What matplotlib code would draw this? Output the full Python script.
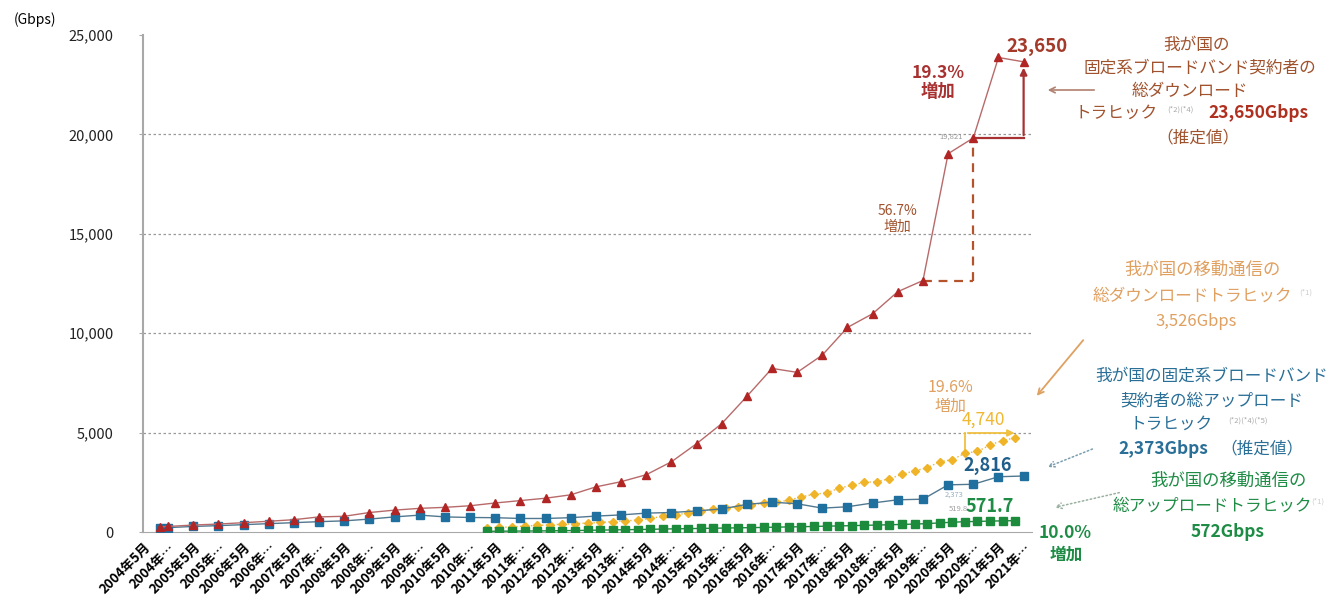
import matplotlib
matplotlib.use("Agg")
import matplotlib.pyplot as plt

plt.rcParams["font.family"] = ["Noto Sans CJK JP", "DejaVu Sans"]

# semi-annual survey points (fixed broadband)
fixed_dates = ["2004-09", "2004-11",
               "2005-05", "2005-11", "2006-05", "2006-11", "2007-05", "2007-11",
               "2008-05", "2008-11", "2009-05", "2009-11", "2010-05", "2010-11",
               "2011-05", "2011-11", "2012-05", "2012-11", "2013-05", "2013-11",
               "2014-05", "2014-11", "2015-05", "2015-11", "2016-05", "2016-11",
               "2017-05", "2017-11", "2018-05", "2018-11", "2019-05", "2019-11",
               "2020-05", "2020-11", "2021-05", "2021-11"]
fixed_down = [250, 280, 350, 400, 470, 540, 620, 760, 790, 980, 1100, 1190,
              1240, 1320, 1460, 1580, 1700, 1870, 2270, 2530, 2880, 3530,
              4440, 5450, 6820, 8230, 8030, 8900, 10290, 10980, 12090, 12650,
              19030, 19821, 23870, 23650]
fixed_up = [200, 220, 280, 320, 370, 420, 470, 520, 560, 650, 760, 850,
            760, 730, 720, 680, 680, 720, 800, 860, 950, 980, 1060, 1160,
            1390, 1500, 1420, 1200, 1270, 1460, 1620, 1650, 2373, 2400,
            2780, 2816]

# quarterly survey points (mobile)
mobile_dates = ["2011-03", "2011-06", "2011-09", "2011-12",
                "2012-03", "2012-06", "2012-09", "2012-12",
                "2013-03", "2013-06", "2013-09", "2013-12",
                "2014-03", "2014-06", "2014-09", "2014-12",
                "2015-03", "2015-06", "2015-09", "2015-12",
                "2016-03", "2016-06", "2016-09", "2016-12",
                "2017-03", "2017-06", "2017-09", "2017-12",
                "2018-03", "2018-06", "2018-09", "2018-12",
                "2019-03", "2019-06", "2019-09", "2019-12",
                "2020-03", "2020-06", "2020-09", "2020-12",
                "2021-03", "2021-06", "2021-09"]
mobile_down = [200, 230, 260, 300, 330, 360, 390, 420, 450, 480, 520, 560,
               600, 680, 800, 870, 950, 1050, 1150, 1200, 1280, 1350, 1450,
               1500, 1600, 1770, 1900, 1970, 2200, 2350, 2500, 2530, 2680,
               2900, 3080, 3230, 3530, 3640, 3963, 4050, 4380, 4600, 4740]
mobile_up = [35, 40, 45, 50, 55, 60, 68, 75, 85, 95, 105, 115, 125, 135,
             150, 160, 170, 180, 190, 200, 210, 220, 230, 245, 255, 265,
             280, 295, 305, 320, 335, 350, 365, 380, 400, 420, 460, 490,
             519.8, 530, 550, 560, 571.7]

tick_labels = []
for yr in range(2004, 2022):
    tick_labels += [f"{yr}年5月", f"{yr}年…"]
yticks = [0, 5000, 10000, 15000, 20000, 25000]


def to_month(s):
    y, m = s.split("-")
    return (int(y) - 2004) * 12 + int(m) - 5


fx = [to_month(d) for d in fixed_dates]
mx = [to_month(d) for d in mobile_dates]

W, H = 1333, 599
fig = plt.figure(figsize=(W / 100, H / 100), dpi=100)
ax = fig.add_axes([143 / W, 1 - 532 / H, (1032 - 143) / W, (532 - 35) / H])


def fp(x, y):
    # pixel position measured from the top-left corner
    return (x, H - y)


def ftext(x, y, s, **kw):
    kw.setdefault("ha", "center")
    kw.setdefault("va", "center")
    fig.text(x / W, 1 - y / H, s, **kw)


# series
ax.plot(mx, mobile_down, color="#eab53c", lw=1, ls=":", marker="D", ms=4.5,
        mfc="#f0b429", mec="#f0b429", zorder=3)
ax.plot(fx, fixed_up, color="#52788f", lw=1, marker="s", ms=6,
        mfc="#1f6f9f", mec="#1f6f9f", zorder=4)
ax.plot(fx, fixed_down, color="#b86a6a", lw=1, marker="^", ms=6,
        mfc="#b22525", mec="#b22525", zorder=5)
ax.plot(mx, mobile_up, color="#1e8a3e", lw=1, marker="s", ms=6,
        mfc="#1c8c3c", mec="#1c8c3c", zorder=6)

ax.set_xlim(0, 212)
ax.set_ylim(0, 25000)
ax.set_xticks(range(0, 211, 6))
ax.set_xticklabels(tick_labels, rotation=45, ha="right", va="top",
                   rotation_mode="anchor", fontsize=9.5, fontweight="bold")
ax.set_yticks(yticks)
ax.set_yticklabels([f"{v:,}" for v in yticks], fontsize=10.5, color="#222222")
ax.tick_params(axis="x", length=0, pad=6)
ax.tick_params(axis="y", length=3, color="#aaaaaa", pad=18)
for v in yticks[1:-1]:
    ax.axhline(v, color="#999999", lw=0.9, ls=(0, (2, 2)), zorder=1)
for side in ["top", "right"]:
    ax.spines[side].set_visible(False)
ax.spines["left"].set_color("#a8a8a8")
ax.spines["left"].set_linewidth(1.5)
ax.spines["bottom"].set_color("#a8a8a8")

ftext(35, 20, "(Gbps)", fontsize=10)

# fixed download: growth brackets
red = "#a83232"
ax.plot([fx[-5], fx[-3]], [fixed_down[-5], fixed_down[-5]], color="#b5542c",
        lw=1.6, ls=(0, (4, 3)), zorder=2)
ax.plot([fx[-3], fx[-3]], [fixed_down[-5], fixed_down[-3]], color="#b5542c",
        lw=1.6, ls=(0, (4, 3)), zorder=2)
ax.plot([fx[-3], fx[-1]], [fixed_down[-3], fixed_down[-3]], color=red,
        lw=1.6, zorder=2)
ax.annotate("", xy=(fx[-1], fixed_down[-1] - 150), xytext=(fx[-1], fixed_down[-3]),
            arrowprops=dict(arrowstyle="-|>", color=red, lw=1.6))
ax.text(180, 15750, "56.7%\n増加", color="#a0522d", fontsize=10,
        ha="center", va="center", linespacing=1.1)
ax.text(189.5, 22600, "19.3%\n増加", color=red, fontsize=12.5,
        fontweight="bold", ha="center", va="center", linespacing=1.05)
ax.text(206, 24400, "23,650", color="#a33a2a", fontsize=13.5,
        fontweight="bold", ha="left", va="center")
ax.text(195.5, 19900, "19,821", color="#999999", fontsize=5.5,
        ha="right", va="center")

# mobile download bracket
ax.plot([mx[-5], mx[-5]], [mobile_down[-5] + 100, 4980], color="#f0c040", lw=1.3)
ax.annotate("", xy=(mx[-1] + 0.5, 4980), xytext=(mx[-5], 4980),
            arrowprops=dict(arrowstyle="-|>", color="#f0c040", lw=1.3))
ax.text(192.5, 6800, "19.6%\n増加", color="#e0a060", fontsize=11.5,
        ha="center", va="center", linespacing=1.2)
ax.text(200.5, 5650, "4,740", color="#f0b830", fontsize=12.5,
        ha="center", va="center")

# end labels
ax.text(201.5, 3340, "2,816", color="#1f5f8b", fontsize=13,
        fontweight="bold", ha="center", va="center")
ax.text(202, 1270, "571.7", color="#1e8c45", fontsize=13,
        fontweight="bold", ha="center", va="center")
ax.text(193.5, 1900, "2,373", color="#9ab0bf", fontsize=5.5, ha="center", va="center")
ax.text(194.5, 1150, "519.8", color="#a0a0a0", fontsize=5.5, ha="center", va="center")

# right-hand captions
c_red, c_red2 = "#a0522d", "#b03020"
ftext(1197, 45, "我が国の", color=c_red, fontsize=12)
ftext(1200, 68, "固定系ブロードバンド契約者の", color=c_red, fontsize=12)
ftext(1190, 91, "総ダウンロード", color=c_red, fontsize=12)
ftext(1116, 113, "トラヒック", color=c_red, fontsize=12)
ftext(1180, 110, "(*2)(*4)", color="#aaaaaa", fontsize=5.5)
ftext(1208, 113, "23,650Gbps", color=c_red2, fontsize=12.5,
      fontweight="bold", ha="left")
ftext(1198, 138, "（推定値）", color=c_red, fontsize=12)
ax.annotate("", xy=fp(1045, 90), xytext=fp(1097, 90), xycoords="figure pixels",
            textcoords="figure pixels",
            arrowprops=dict(arrowstyle="->", color="#b08070", lw=1.2))

c_or = "#e0a060"
ftext(1202, 270, "我が国の移動通信の", color=c_or, fontsize=12.5)
ftext(1192, 296, "総ダウンロードトラヒック", color=c_or, fontsize=12)
ftext(1306, 293, "(*1)", color="#cccccc", fontsize=5.5)
ftext(1196, 321, "3,526Gbps", color=c_or, fontsize=12)
ax.annotate("", xy=fp(1035, 398), xytext=fp(1085, 338), xycoords="figure pixels",
            textcoords="figure pixels",
            arrowprops=dict(arrowstyle="->", color=c_or, lw=1.3))

c_bl = "#2a6f97"
ftext(1212, 376, "我が国の固定系ブロードバンド", color=c_bl, fontsize=12)
ftext(1212, 401, "契約者の総アップロード", color=c_bl, fontsize=12)
ftext(1171, 424, "トラヒック", color=c_bl, fontsize=12)
ftext(1248, 421, "(*2)(*4)(*5)", color="#aaaaaa", fontsize=5.5)
ftext(1118, 449, "2,373Gbps", color=c_bl, fontsize=12.5, fontweight="bold",
      ha="left")
ftext(1262, 449, "（推定値）", color=c_bl, fontsize=12)
ax.annotate("", xy=fp(1045, 468), xytext=fp(1095, 448), xycoords="figure pixels",
            textcoords="figure pixels",
            arrowprops=dict(arrowstyle="->", color="#7a9db0", lw=1.1, ls=":"))

c_gr = "#1e8c45"
ftext(1228, 481, "我が国の移動通信の", color=c_gr, fontsize=12.5)
ftext(1212, 506, "総アップロードトラヒック", color=c_gr, fontsize=12)
ftext(1318, 502, "(*1)", color="#cccccc", fontsize=5.5)
ftext(1228, 532, "572Gbps", color=c_gr, fontsize=12.5, fontweight="bold")
ax.annotate("", xy=fp(1052, 508), xytext=fp(1122, 492), xycoords="figure pixels",
            textcoords="figure pixels",
            arrowprops=dict(arrowstyle="->", color="#9ab0a0", lw=1.1, ls=":"))
ftext(1065, 533, "10.0%", color=c_gr, fontsize=12.5, fontweight="bold")
ftext(1066, 555, "増加", color=c_gr, fontsize=12, fontweight="bold")

fig.savefig("out.png", dpi=100)
